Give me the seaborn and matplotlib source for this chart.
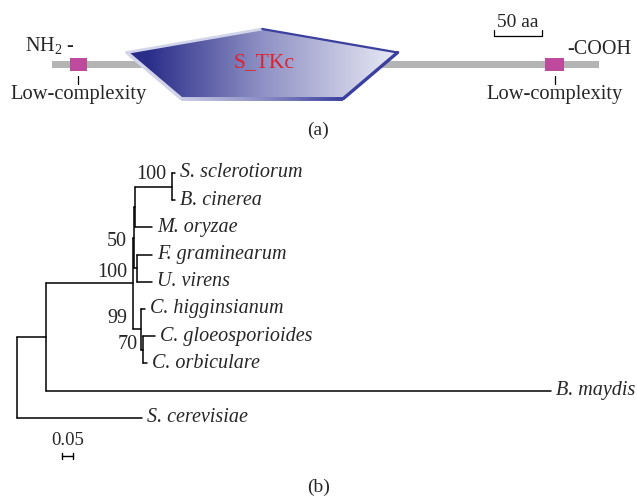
import numpy as np
import pandas as pd
import matplotlib
matplotlib.use("Agg")
import matplotlib.pyplot as plt
from matplotlib.patches import Polygon, Rectangle
from matplotlib.collections import LineCollection
from matplotlib.colors import LinearSegmentedColormap
import seaborn as sns

# ---- (a) domain architecture, positions in amino acids
protein_len = 570
domain_name = "S_TKc"
domain_span = [78, 360]
lowcomp_spans = [[19, 36], [514, 533]]
scale_aa = 50
scale_aa_start = 460

# ---- (b) neighbour-joining tree
node_names = ["root", "A", "S. cerevisiae", "B", "B. maydis", "N3", "C", "N1", "FU",
              "SB", "M. oryzae", "S. sclerotiorum", "B. cinerea", "F. graminearum",
              "U. virens", "C. higginsianum", "CGO", "C. gloeosporioides", "C. orbiculare"]
node_parent = [None, "root", "root", "A", "A", "B", "B", "N3", "N3",
               "N1", "N1", "SB", "SB", "FU",
               "FU", "C", "C", "CGO", "CGO"]
branch_len = [0.0, 0.132, 0.568, 0.395, 2.295, 0.003, 0.037, 0.006, 0.015,
              0.169, 0.078, 0.013, 0.013, 0.068,
              0.068, 0.018, 0.009, 0.054, 0.018]
tip_order = ["S. sclerotiorum", "B. cinerea", "M. oryzae", "F. graminearum", "U. virens",
             "C. higginsianum", "C. gloeosporioides", "C. orbiculare", "B. maydis",
             "S. cerevisiae"]
boot_nodes = ["SB", "N3", "FU", "C", "CGO"]
boot_vals = [100, 50, 100, 99, 70]
scale_dist = 0.05

sns.set_theme(style="white")
plt.rcParams['font.family'] = ['Liberation Serif', 'DejaVu Serif']
plt.rcParams['mathtext.fontset'] = 'custom'
plt.rcParams['mathtext.rm'] = 'Liberation Serif'

W, H = 637, 500
fig = plt.figure(figsize=(W / 100, H / 100), dpi=100)

# ---------------- panel (a)
px_per_aa = 0.96
x0_px = 52
axa = fig.add_axes([0, 1 - 150 / H, 1, 150 / H])
axa.set_xlim(-x0_px / px_per_aa, (W - x0_px) / px_per_aa)
axa.set_ylim(150, 0)
axa.axis("off")

bar_y = 64.5
axa.add_patch(Rectangle((0, bar_y - 3.5), protein_len, 7, color="#b4b4b4", lw=0, zorder=1))
for s, e in lowcomp_spans:
    axa.add_patch(Rectangle((s, bar_y - 6.5), e - s, 12.5, color="#bd4a9c", lw=0, zorder=2))
    mid = (s + e) / 2
    axa.plot([mid, mid], [76, 84], color="black", lw=0.9)
    axa.text(mid, 95, "Low-complexity", ha="center", va="center", fontsize=14.8)

# pentagon domain
d0, d1 = domain_span
w = d1 - d0
top_y, mid_y, bot_y = 29, 52.5, 98.5
verts = [(d0, mid_y), (d0 + w / 2, top_y), (d1, mid_y), (d1 - 0.2 * w, bot_y), (d0 + 0.2 * w, bot_y)]
poly = Polygon(verts, closed=True, facecolor="none", edgecolor="none")
axa.add_patch(poly)
cmap = LinearSegmentedColormap.from_list(
    "dom", [(0, "#2a2c86"), (0.08, "#2c2f8a"), (0.5, "#8f91c4"), (1, "#e9eaf5")])
grad = np.linspace(0, 1, 256).reshape(1, -1)
im = axa.imshow(grad, cmap=cmap, extent=(d0, d1, bot_y, top_y), aspect="auto", zorder=3)
im.set_clip_path(poly)
# bevel-like edges
light = "#d2d4ea"
dark = "#3b3f9e"
axa.plot([verts[0][0], verts[1][0]], [verts[0][1], verts[1][1]], color=light, lw=2, zorder=4,
         solid_capstyle="round")
axa.plot([verts[0][0], verts[4][0]], [verts[0][1], verts[4][1]], color=light, lw=2.5, zorder=4)
axa.plot([verts[1][0], verts[2][0]], [verts[1][1], verts[2][1]], color=dark, lw=1.6, zorder=4)
axa.plot([verts[2][0], verts[3][0]], [verts[2][1], verts[3][1]], color=dark, lw=2.4, zorder=4)
bx = np.linspace(verts[4][0], verts[3][0], 60)
segs = [[(bx[i], bot_y), (bx[i + 1], bot_y)] for i in range(len(bx) - 1)]
edge_cmap = LinearSegmentedColormap.from_list("edge", ["#c9cbe5", "#8a8dc4", "#3b3f9e"])
lc = LineCollection(segs, colors=edge_cmap(np.linspace(0, 1, len(segs))), lw=2.8, zorder=4)
axa.add_collection(lc)
axa.text(d0 + w / 2 + 2, 63, domain_name, color="#e0202a", fontsize=15.5, ha="center", va="center", zorder=5)

axa.text(24, 52, r"NH$_2$ -", ha="right", va="baseline", fontsize=14.5)
axa.text(protein_len - 33, 54, "-COOH", ha="left", va="baseline", fontsize=14.5)

# scale bar 50 aa
sx = [scale_aa_start, scale_aa_start, scale_aa_start + scale_aa, scale_aa_start + scale_aa]
axa.plot(sx, [30, 35.5, 35.5, 30], color="black", lw=0.9)
axa.text(scale_aa_start + scale_aa / 2, 27, f"{scale_aa} aa", ha="center", va="baseline", fontsize=14)

fig.text(0.5, 1 - 130 / H, "(a)", ha="center", va="center", fontsize=14)

# ---------------- panel (b)
parent = dict(zip(node_names, node_parent))
blen = dict(zip(node_names, branch_len))
children = {n: [c for c in node_names if parent[c] == n] for n in node_names}

xpos = {}
for n in node_names:
    p = parent[n]
    xpos[n] = blen[n] + (xpos[p] if p is not None else 0.0)

ypos = {t: i for i, t in enumerate(tip_order)}


def get_y(n):
    if n in ypos:
        return ypos[n]
    ys = [get_y(c) for c in children[n]]
    ypos[n] = (min(ys) + max(ys)) / 2
    return ypos[n]


get_y("root")

rows = []
k = 0
for n in node_names:
    p = parent[n]
    if p is None:
        continue
    rows.append({"x": xpos[p], "y": ypos[n], "seg": k})
    rows.append({"x": xpos[n], "y": ypos[n], "seg": k})
    k += 1
for n in node_names:
    ch = children[n]
    if not ch:
        continue
    ys = [ypos[c] for c in ch]
    rows.append({"x": xpos[n], "y": min(ys), "seg": k})
    rows.append({"x": xpos[n], "y": max(ys), "seg": k})
    k += 1
edges = pd.DataFrame(rows)

px_per_unit = 220
root_px = 17
tip0_px, tip_step = 173, 27.2
axb = fig.add_axes([0, 0, 1, 350 / H])
sns.lineplot(data=edges, x="x", y="y", units="seg", estimator=None, sort=False,
             color="black", lw=1.1, ax=axb, legend=False)
axb.set_xlim(-root_px / px_per_unit, (W - root_px) / px_per_unit)
axb.set_ylim((500 - tip0_px) / tip_step, (150 - tip0_px) / tip_step)
axb.axis("off")

for t in tip_order:
    axb.annotate(t, (xpos[t], ypos[t]), xytext=(3.5, 0), textcoords="offset points",
                 ha="left", va="center", fontsize=14.5, style="italic")

boot_offsets = [(-4, 9), (-5, -3), (-7, -3), (-10, 8), (-4, 3.5)]
for n, v, (dx, dy) in zip(boot_nodes, boot_vals, boot_offsets):
    axb.annotate(str(v), (xpos[n], ypos[n]), xytext=(dx, dy), textcoords="offset points",
                 ha="right", va="center", fontsize=14.5)

# distance scale bar
sb_x = (62 - root_px) / px_per_unit
sb_y = (456 - tip0_px) / tip_step
axb.plot([sb_x, sb_x + scale_dist], [sb_y, sb_y], color="black", lw=1.0)
axb.plot([sb_x, sb_x], [sb_y - 0.12, sb_y + 0.12], color="black", lw=1.0)
axb.plot([sb_x + scale_dist] * 2, [sb_y - 0.12, sb_y + 0.12], color="black", lw=1.0)
axb.text(sb_x + scale_dist / 2, sb_y - 0.25, f"{scale_dist:.2f}", ha="center", va="bottom", fontsize=13.5)

fig.text(0.5, 1 - 487 / H, "(b)", ha="center", va="center", fontsize=14)

fig.savefig("out.png", dpi=100)
